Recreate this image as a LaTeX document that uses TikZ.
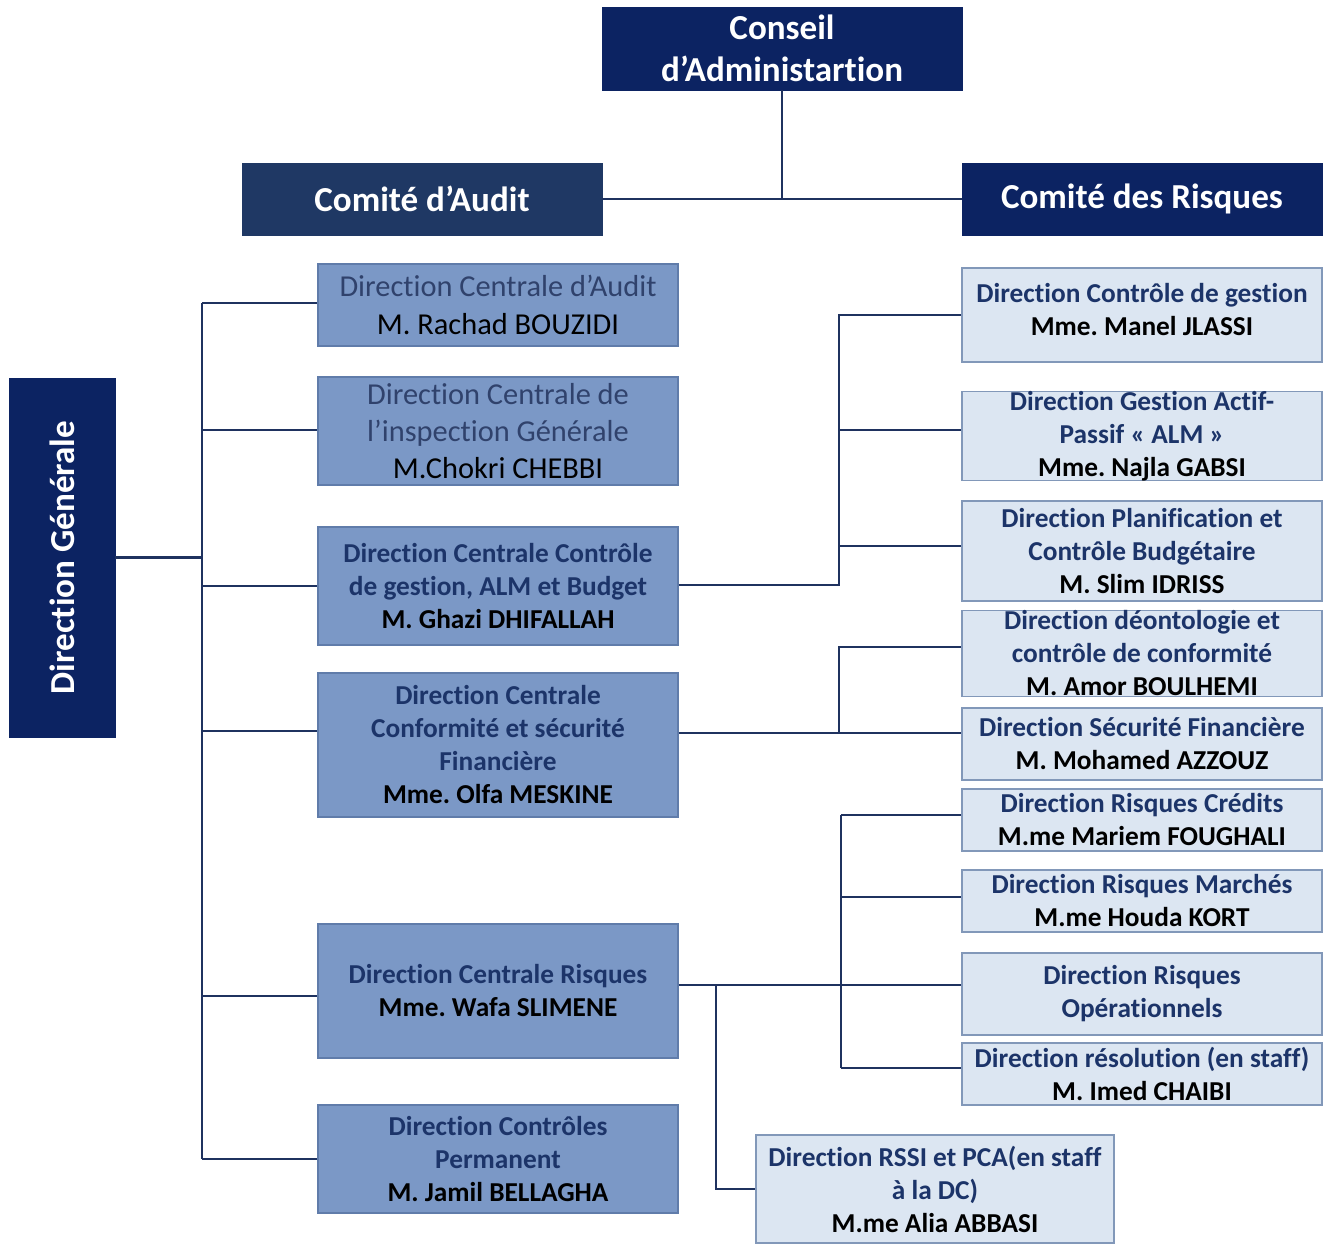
\documentclass[tikz,border=0pt]{standalone}
\usepackage{fontspec}
\setmainfont{Carlito}[Ligatures=NoCommon]
\usetikzlibrary{calc}
\definecolor{navy}{RGB}{12,35,98}
\definecolor{navyb}{RGB}{31,56,100}
\definecolor{midfill}{RGB}{123,152,198}
\definecolor{midline}{RGB}{96,124,170}
\definecolor{lightfill}{RGB}{220,230,242}
\definecolor{lightline}{RGB}{130,152,185}
\definecolor{conn}{RGB}{31,50,95}
\definecolor{txtblue}{RGB}{28,52,105}
\definecolor{txtgray}{RGB}{48,66,108}
\tikzset{
  topbox/.style={rectangle, fill=navy, draw=navy, text=white, align=center, inner sep=0pt,
    font=\fontsize{26.3}{31.5}\selectfont\bfseries},
  midbox/.style={rectangle, fill=midfill, draw=midline, line width=0.8pt, text=txtblue, align=center,
    inner sep=0pt, minimum width=270pt, font=\fontsize{20.5}{24.75}\selectfont\bfseries},
  midreg/.style={midbox, text=txtgray, font=\fontsize{22.8}{28}\selectfont},
  rbox/.style={rectangle, fill=lightfill, draw=lightline, line width=0.8pt, text=txtblue, align=center,
    inner sep=0pt, minimum width=270pt, font=\fontsize{20.5}{24.75}\selectfont\bfseries},
  link/.style={draw=conn, line width=2.1pt}
}
\newcommand{\nm}[1]{\textcolor{black}{#1}}
\frenchspacing
\begin{document}
\begin{tikzpicture}[x=0.75pt,y=-0.75pt]
\useasboundingbox[fill=white] (0,0) rectangle (1340,1245);
% top level
\node[topbox, minimum width=270pt, minimum height=62.25pt] (conseil) at (782,48.5) {Conseil\\d’Administartion};
\node[topbox, fill=navyb, draw=navyb, minimum width=270pt, minimum height=54pt] (audit) at (422,199) {Comité d’Audit};
\node[topbox, minimum width=270pt, minimum height=54pt] (risques) at (1142,199) {Comité des Risques};
\node[topbox, rotate=90, minimum width=269.25pt, minimum height=79.5pt] (dg) at (62,557.5) {Direction Générale};
% left column
\node[midreg, minimum height=61.5pt] (dca) at (498,305) {Direction Centrale d’Audit\\\nm{M. Rachad BOUZIDI}};
\node[midreg, minimum height=81pt] (insp) at (498,431) {Direction Centrale de\\l’inspection Générale\\\nm{M.Chokri CHEBBI}};
\node[midbox, minimum height=88.5pt] (dccg) at (498,586) {Direction Centrale Contrôle\\de gestion, ALM et Budget\\\nm{M. Ghazi DHIFALLAH}};
\node[midbox, minimum height=108pt] (dccs) at (498,745) {Direction Centrale\\Conformité et sécurité\\Financière\\\nm{Mme. Olfa MESKINE}};
\node[midbox, minimum height=100.5pt] (dcr) at (498,991) {Direction Centrale Risques\\\nm{Mme. Wafa SLIMENE}};
\node[midbox, minimum height=81pt] (dcp) at (498,1159) {Direction Contrôles\\Permanent\\\nm{M. Jamil BELLAGHA}};
% right column
\node[rbox, minimum height=70.5pt] (r1) at (1142,315) {Direction Contrôle de gestion\\\nm{Mme. Manel JLASSI}\\[-17pt]\mbox{}};
\node[rbox, minimum height=66pt] (r2) at (1142,436) {Direction Gestion Actif-\\Passif « ALM »\\\nm{Mme. Najla GABSI}};
\node[rbox, minimum height=75pt] (r3) at (1142,551) {Direction Planification et\\Contrôle Budgétaire\\\nm{M. Slim IDRISS}};
\node[rbox, minimum height=63.75pt] (r4) at (1142,653.5) {Direction déontologie et\\contrôle de conformité\\\nm{M. Amor BOULHEMI}};
\node[rbox, minimum height=54pt] (r5) at (1142,744) {Direction Sécurité Financière\\\nm{M. Mohamed AZZOUZ}};
\node[rbox, minimum height=46.5pt] (r6) at (1142,820) {Direction Risques Crédits\\\nm{M.me Mariem FOUGHALI}};
\node[rbox, minimum height=46.5pt] (r7) at (1142,901) {Direction Risques Marchés\\\nm{M.me Houda KORT}};
\node[rbox, minimum height=61.5pt] (r8) at (1142,994) {Direction Risques\\Opérationnels};
\node[rbox, minimum height=46.5pt] (r9) at (1142,1074) {Direction résolution (en staff)\\\nm{M. Imed CHAIBI}};
\node[rbox, minimum width=268.5pt, minimum height=81pt] (rssi) at (935,1189) {Direction RSSI et PCA(en staff\\à la DC)\\\nm{M.me Alia ABBASI}};
% connectors: top
\draw[link] (conseil.south) -- (conseil.south |- audit.east);
\draw[link] (audit.east) -- (risques.west);
% spine of Direction Générale
\coordinate (sp) at (202,0);
\coordinate (sTop) at ($(dca.west -| sp)+(0,-2)$);
\coordinate (sBot) at (dcp.west -| sp);
\draw[link] (sTop) -- (sBot);
\draw[link] (dg.south) -- (dg.south -| sp);
\draw[link] (sTop) -- (sTop -| dca.west);
\draw[link] ($(insp.west -| sp)+(0,-1)$) -- ($(insp.west)+(0,-1)$);
\draw[link] (dccg.west -| sp) -- (dccg.west);
\draw[link] ($(dccs.west -| sp)+(0,-14)$) -- ($(dccs.west)+(0,-14)$);
\draw[link] ($(dcr.west -| sp)+(0,5)$) -- ($(dcr.west)+(0,5)$);
\draw[link] (sBot) -- (dcp.west);
% Contrôle de gestion branch
\coordinate (b1) at (839,0);
\coordinate (b1bot) at ($(dccg.east -| b1)+(0,-1)$);
\coordinate (b1top) at (r1.west -| b1);
\draw[link] ($(dccg.east)+(0,-1)$) -- (b1bot) -- (b1top) -- (r1.west);
\draw[link] ($(r2.west -| b1)+(0,-6)$) -- ($(r2.west)+(0,-6)$);
\draw[link] ($(r3.west -| b1)+(0,-5)$) -- ($(r3.west)+(0,-5)$);
% Conformité branch
\coordinate (b2bot) at ($(dccs.east -| b1)+(0,-12)$);
\draw[link] ($(dccs.east)+(0,-12)$) -- ($(r5.west)+(0,-11)$);
\draw[link] (b2bot) -- ($(r4.west -| b1)+(0,-6.5)$) -- ($(r4.west)+(0,-6.5)$);
% Risques branch
\coordinate (b3) at (841,0);
\coordinate (b4) at (716,0);
\draw[link] ($(dcr.east)+(0,-6)$) -- ($(r8.west)+(0,-9)$);
\draw[link] ($(r6.west -| b3)+(0,-5)$) -- ($(r9.west -| b3)+(0,-6)$);
\draw[link] ($(r6.west -| b3)+(0,-5)$) -- ($(r6.west)+(0,-5)$);
\draw[link] ($(r7.west -| b3)+(0,-4)$) -- ($(r7.west)+(0,-4)$);
\draw[link] ($(r9.west -| b3)+(0,-6)$) -- ($(r9.west)+(0,-6)$);
\draw[link] ($(dcr.east -| b4)+(0,-6)$) -- (rssi.west -| b4) -- (rssi.west);
\end{tikzpicture}
\end{document}
